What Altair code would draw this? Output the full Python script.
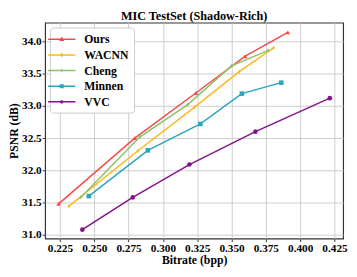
import altair as alt
import pandas as pd

series = ["Ours", "WACNN", "Cheng", "Minnen", "VVC"]
colors = ["#F54A4A", "#FFB81C", "#8CC26A", "#2AA5C0", "#83128A"]

ours_x = [0.224, 0.2795, 0.324, 0.3600, 0.391]
ours_y = [31.48, 32.50, 33.20, 33.77, 34.14]
wacnn_x = [0.2314, 0.2816, 0.3231, 0.3556, 0.3806]
wacnn_y = [31.44, 32.30, 32.98, 33.53, 33.90]
cheng_x = [0.2401, 0.2833, 0.3181, 0.3500, 0.3768]
cheng_y = [31.58, 32.52, 33.02, 33.62, 33.86]
minnen_x = [0.2460, 0.2890, 0.3273, 0.3575, 0.3862]
minnen_y = [31.60, 32.31, 32.72, 33.19, 33.36]
vvc_x = [0.2413, 0.2780, 0.3193, 0.3674, 0.4216]
vvc_y = [31.08, 31.58, 32.09, 32.60, 33.12]

x_ticks = [0.225, 0.25, 0.275, 0.3, 0.325, 0.35, 0.375, 0.4, 0.425]
y_ticks = [31.0, 31.5, 32.0, 32.5, 33.0, 33.5, 34.0]

xs = [ours_x, wacnn_x, cheng_x, minnen_x, vvc_x]
ys = [ours_y, wacnn_y, cheng_y, minnen_y, vvc_y]
rows = []
for s, xv, yv in zip(series, xs, ys):
    for i, (a, b) in enumerate(zip(xv, yv)):
        rows.append({"series": s, "bpp": a, "psnr": b, "i": i})
df = pd.DataFrame(rows)

legend_df = pd.DataFrame({"series": series, "bpp": [0.1] * 5, "psnr": [31.0] * 5})

FONT = "Liberation Serif"

marker_shapes = [
    "triangle-up",
    "M0,-1L0.5,0L0,1L-0.5,0Z",
    "M0,-1L0.3,-0.3L1,0L0.3,0.3L0,1L-0.3,0.3L-1,0L-0.3,-0.3Z",
    "square",
    "circle",
]
# legend symbol unit = 7 px (symbolSize 196)
line = "M-2,-0.11H2V0.11H-2Z"
legend_shapes = [
    line + "M0,-0.42L0.38,0.26H-0.38Z",
    line + "M0,-0.42L0.2,0L0,0.42L-0.2,0Z",
    line + "M0,-0.36L0.1,-0.1L0.36,0L0.1,0.1L0,0.36L-0.1,0.1L-0.36,0L-0.1,-0.1Z",
    line + "M-0.3,-0.3H0.3V0.3H-0.3Z",
    line + "M0,-0.26L0.18,-0.18L0.26,0L0.18,0.18L0,0.26L-0.18,0.18L-0.26,0L-0.18,-0.18Z",
]

xscale = alt.Scale(domain=[0.2142, 0.4313], nice=False, zero=False)
yscale = alt.Scale(domain=[30.94, 34.29], nice=False, zero=False)
cscale = alt.Scale(domain=series, range=colors)

xenc = alt.X("bpp:Q", scale=xscale,
             axis=alt.Axis(values=x_ticks, tickCount=len(x_ticks), format=".3f",
                           title="Bitrate (bpp)",
                           labelOverlap=False, labelBound=False, labelFlush=False))
yenc = alt.Y("psnr:Q", scale=yscale,
             axis=alt.Axis(values=y_ticks, tickCount=len(y_ticks), format=".1f",
                           title="PSNR (dB)", labelOverlap=False))

lines = alt.Chart(df).mark_line(strokeWidth=1.5).encode(
    x=xenc, y=yenc,
    color=alt.Color("series:N", scale=cscale, legend=None),
    detail="series:N", order="i:Q",
)

points = alt.Chart(df).mark_point(filled=True, opacity=1, size=22).encode(
    x="bpp:Q", y="psnr:Q",
    color=alt.Color("series:N", scale=cscale, legend=None),
    shape=alt.Shape("series:N", scale=alt.Scale(domain=series, range=marker_shapes), legend=None),
)

legend_layer = alt.Chart(legend_df).mark_point(filled=True, opacity=1, clip=True).encode(
    x="bpp:Q", y="psnr:Q",
    color=alt.Color("series:N", scale=alt.Scale(domain=series, range=colors),
                    legend=alt.Legend(title=None)),
    shape=alt.Shape("series:N", scale=alt.Scale(domain=series, range=legend_shapes),
                    legend=alt.Legend(title=None)),
)

chart = alt.layer(lines, points, legend_layer).resolve_scale(
    shape="independent", color="independent"
).properties(
    width=305, height=221,
    title=alt.TitleParams("MIC TestSet (Shadow-Rich)", font=FONT, fontSize=12.5,
                          fontWeight="bold", color="#000", offset=0),
    autosize=alt.AutoSizeParams(type="none"),
    padding={"left": 38, "top": 12, "right": 6, "bottom": 28},
).configure_view(
    stroke="#333", strokeWidth=1.2
).configure_axis(
    labelFont=FONT, labelFontSize=11.5, labelFontWeight="bold", labelColor="#000",
    titleFont=FONT, titleFontSize=12, titleFontWeight="bold", titleColor="#000",
    grid=True, gridColor="#c8c8c8", gridWidth=0.9,
    domain=False, tickColor="#333", tickSize=3,
).configure_axisX(
    labelPadding=1, titlePadding=1,
).configure_axisY(
    labelPadding=1, titlePadding=1,
).configure_legend(
    orient="top-left", offset=5, padding=5,
    strokeColor="#cccccc", fillColor="#ffffff", cornerRadius=3,
    labelFont=FONT, labelFontSize=12, labelFontWeight="bold", labelColor="#000",
    symbolSize=196, symbolStrokeWidth=0, labelOffset=16, rowPadding=3,
)

chart.save("out.html", embed_options={"renderer": "svg", "actions": False})
